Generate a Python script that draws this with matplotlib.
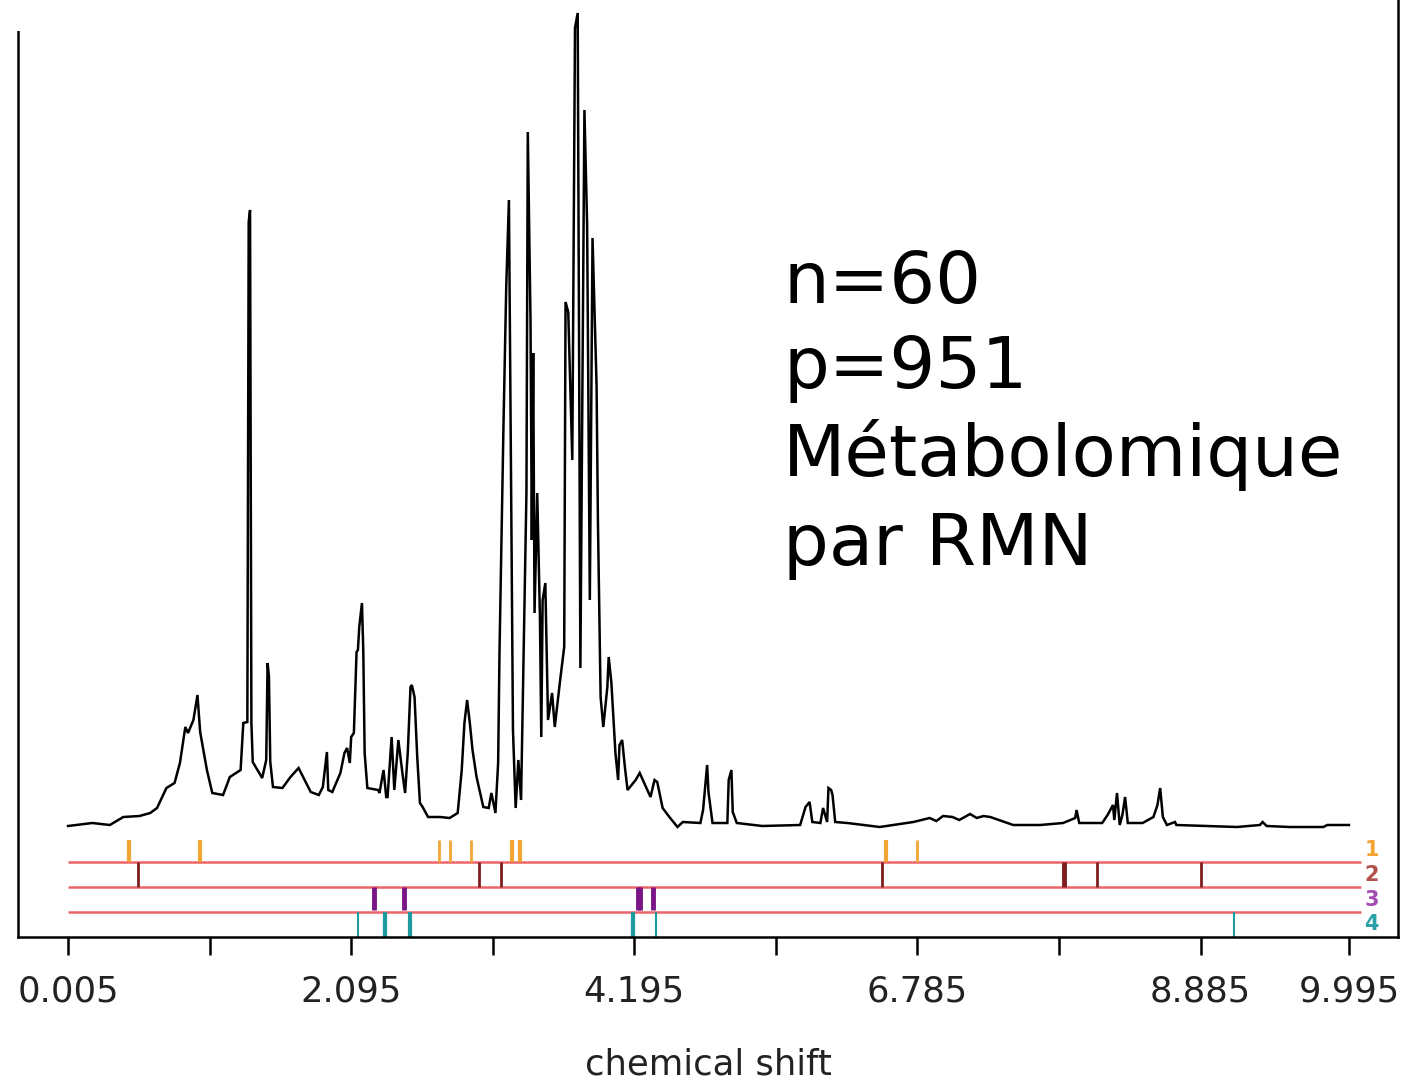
import matplotlib
matplotlib.use("Agg")
import matplotlib.pyplot as plt
from matplotlib.patches import Rectangle

# ---------------- data ----------------
# spectrum: variable index (1..951) and intensity (arbitrary units)
spec_idx = [1, 19, 32, 42, 54, 62, 67, 74, 80, 84, 88, 90, 94, 97, 99, 104, 108, 116, 121, 129,
            131, 134, 135, 136, 137, 138, 145, 148, 149, 150, 151, 153, 160, 166, 172, 181, 187, 190,
            193, 194, 197, 203, 206, 208, 210, 211, 213, 215, 216, 217, 219, 220, 221, 223, 231, 232,
            235, 237, 238, 241, 243, 246, 249, 251, 253, 255, 256, 258, 260, 262, 264, 268, 277, 284,
            290, 293, 295, 297, 299, 301, 304, 309, 313, 315, 318, 320, 321, 324, 326, 328, 330, 331,
            333, 335, 337, 338, 341, 342, 344, 345, 346, 347, 349, 351, 352, 353, 355, 357, 360, 362,
            366, 369, 370, 372, 375, 377, 379, 381, 384, 386, 388, 390, 393, 394, 396, 398, 401, 402,
            404, 407, 409, 410, 412, 414, 416, 422, 425, 429, 433, 436, 438, 442, 447, 453, 457, 470,
            472, 475, 476, 479, 490, 491, 493, 494, 497, 516, 544, 548, 551, 553, 559, 561, 564, 565,
            567, 568, 570, 579, 603, 628, 640, 645, 650, 657, 662, 670, 675, 680, 685, 702, 722, 739,
            748, 749, 751, 768, 772, 776, 777, 779, 781, 783, 785, 787, 798, 806, 809, 811, 813, 816,
            822, 823, 868, 885, 887, 890, 907, 932, 935, 951]
spec_int = [0, 3, 1, 9, 10, 13, 18, 38, 43, 63, 99, 93, 106, 131, 94, 56, 33, 31, 49, 56,
            103, 104, 604, 616, 103, 64, 48, 66, 163, 150, 64, 39, 38, 49, 58, 34, 31, 39,
            74, 36, 34, 53, 73, 78, 63, 89, 93, 174, 176, 199, 223, 174, 73, 38, 36, 33,
            56, 29, 29, 89, 36, 86, 53, 33, 74, 139, 141, 129, 69, 23, 19, 9, 9, 8,
            13, 56, 103, 126, 103, 76, 49, 19, 18, 33, 13, 63, 173, 403, 539, 626, 279, 96,
            18, 66, 26, 103, 334, 694, 506, 286, 473, 213, 333, 209, 89, 226, 243, 106, 133, 99,
            146, 179, 524, 514, 366, 798, 813, 158, 716, 601, 226, 588, 441, 306, 129, 99, 139, 169,
            143, 73, 46, 81, 86, 59, 36, 46, 53, 41, 29, 46, 44, 18, 9, -1, 4, 3,
            16, 61, 34, 3, 3, 46, 56, 14, 3, 0, 1, 19, 24, 4, 3, 18, 4, 38,
            36, 31, 4, 3, -1, 4, 8, 5, 10, 9, 6, 12, 8, 10, 9, 1, 1, 3,
            8, 16, 3, 3, 11, 21, 6, 33, 1, 11, 29, 3, 3, 9, 21, 38, 9, 1,
            4, 1, -1, 1, 4, 0, -1, -1, 1, 1]

# selected variables for each of the 4 components
comp_labels = ["1", "2", "3", "4"]
comp1_vars = [46, 99, 276, 284, 300, 330, 336, 608, 631]
comp2_vars = [53, 306, 322, 605, 740, 764, 841]
comp3_vars = [228, 250, 424, 425, 435]
comp4_vars = [216, 236, 255, 420, 437, 866]

# x axis ticks (variable index) and chemical-shift labels
tick_idx = [1, 106, 211, 316, 421, 526, 631, 736, 841, 951]
tick_lab = ["0.005", "", "2.095", "", "4.195", "", "6.785", "", "8.885", "9.995"]

annot_lines = ["n=60", "p=951", "Métabolomique", "par RMN"]

# ---------------- styling ----------------
W, H = 1408, 1085
fig = plt.figure(figsize=(W / 100, H / 100), dpi=100)
ax = fig.add_axes([18 / W, 1 - 937 / H, 1380 / W, (937 + 20) / H])
ax.set_xlim(-36.1, 987.4)
ax.set_ylim(-111, 846)

ax.plot(spec_idx, spec_int, color="black", lw=1.8, solid_joinstyle="miter")

row_colors = ["#F2A535", "#7E1E22", "#7A1585", "#1E9A9E"]
label_colors = ["#F6A431", "#B2504C", "#A24DB2", "#2AA0A8"]
row_span = [(-14, -36), (-36, -61), (-61, -84), (-86, -111)]
row_lw = [[3, 3, 2, 2, 2, 3, 3, 3, 2],
          [2, 2, 2, 2, 3.5, 2, 2],
          [3.5, 3.5, 3.5, 3.5, 3.5],
          [1.5, 3, 3, 3, 1.5, 1.5]]
sep_y = [-36, -61, -86]
label_y = [-24, -49, -74, -98]

for y in sep_y:
    ax.plot([1, 960], [y, y], color="#EC6468", lw=1.8, solid_capstyle="butt")

for k, vars_ in enumerate([comp1_vars, comp2_vars, comp3_vars, comp4_vars]):
    y0, y1 = row_span[k]
    for v, lw in zip(vars_, row_lw[k]):
        ax.plot([v, v], [y0, y1], color=row_colors[k], lw=lw, solid_capstyle="butt")
    ax.text(968, label_y[k], comp_labels[k], color=label_colors[k], fontsize=15,
            fontweight="bold", ha="center", va="center", family="DejaVu Sans")

for s in ["left", "right", "bottom"]:
    ax.spines[s].set_linewidth(1.8)
ax.spines["top"].set_visible(False)
ax.set_yticks([])
ax.set_xticks(tick_idx)
ax.set_xticklabels(tick_lab, fontsize=25.5, color="#222222", family="DejaVu Sans")
ax.tick_params(axis="x", length=13, width=1.8, pad=14)
ax.set_xlabel("chemical shift", fontsize=25.5, color="#222222", family="DejaVu Sans", labelpad=28)

baselines = [303, 388, 476, 565]
for line, b in zip(annot_lines, baselines):
    fig.text(783 / W, 1 - b / H, line, fontsize=52, family="DejaVu Sans",
             ha="left", va="baseline", color="black")

# white patch hiding the very top of the left frame (as in the source image)
fig.patches.append(Rectangle((0, 1 - 31 / H), 60 / W, 31 / H, transform=fig.transFigure,
                             facecolor="white", edgecolor="none", zorder=10))

fig.savefig("out.png", dpi=100)
